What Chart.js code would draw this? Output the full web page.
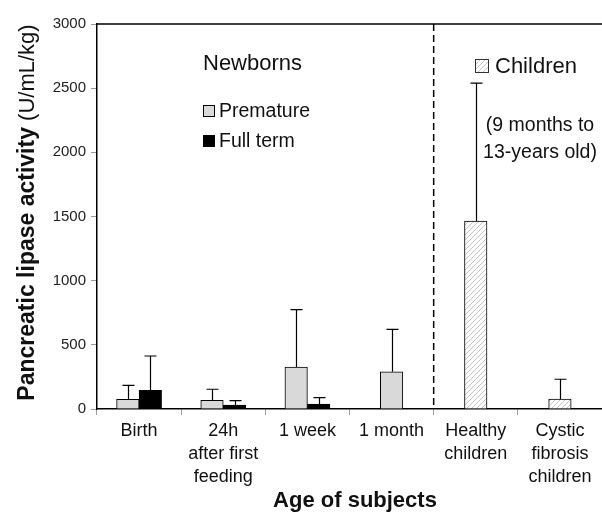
<!DOCTYPE html>
<html>
<head>
<meta charset="utf-8">
<script src="https://cdn.jsdelivr.net/npm/chart.js@4/dist/chart.umd.min.js"></script>
<style>
html,body{margin:0;padding:0;background:#fff;}
canvas{display:block;}
</style>
</head>
<body>
<canvas id="c" width="602" height="516"></canvas>
<script>
// ---- data ----
const categories = [["Birth"], ["24h", "after first", "feeding"], ["1 week"], ["1 month"], ["Healthy", "children"], ["Cystic", "fibrosis", "children"]];
const prematureMean = [75, 68, 327, 290, null, null];
const prematureSD   = [109, 86, 448, 330, null, null];
const fullTermMean  = [145, 30, 38, null, null, null];
const fullTermSD    = [268, 36, 50, null, null, null];
const childrenMean  = [null, null, null, null, 1465, 78];
const childrenSD    = [null, null, null, null, 1075, 154];
const yTicks = [0, 500, 1000, 1500, 2000, 2500, 3000];

const FONT = '"Liberation Sans", Arial, sans-serif';

function makeHatch() {
  const s = 5;
  const c = document.createElement('canvas');
  c.width = s; c.height = s;
  const g = c.getContext('2d');
  g.fillStyle = '#ffffff';
  g.fillRect(0, 0, s, s);
  g.strokeStyle = '#c4c4c4';
  g.lineWidth = 1;
  g.beginPath();
  g.moveTo(0, s); g.lineTo(s, 0);
  g.moveTo(-s / 2, s / 2); g.lineTo(s / 2, -s / 2);
  g.moveTo(s / 2, s * 1.5); g.lineTo(s * 1.5, s / 2);
  g.stroke();
  return g.createPattern(c, 'repeat');
}
const hatch = makeHatch();

const sdByDataset = [prematureSD, fullTermSD, childrenSD];

const errorBars = {
  id: 'errorBars',
  afterDatasetsDraw(chart) {
    const ctx = chart.ctx;
    const y = chart.scales.y;
    ctx.save();
    ctx.strokeStyle = '#000';
    ctx.lineWidth = 1.2;
    chart.data.datasets.forEach((ds, di) => {
      const meta = chart.getDatasetMeta(di);
      const sd = sdByDataset[di];
      ds.data.forEach((v, i) => {
        if (v == null || sd[i] == null) return;
        const el = meta.data[i];
        const x = Math.round(el.x) + 0.5;
        const yTop = y.getPixelForValue(v + sd[i]);
        const yBar = y.getPixelForValue(v);
        ctx.beginPath();
        ctx.moveTo(x, yBar);
        ctx.lineTo(x, yTop);
        ctx.moveTo(x - 6, yTop);
        ctx.lineTo(x + 6, yTop);
        ctx.stroke();
      });
    });
    ctx.restore();
  }
};

const decorations = {
  id: 'decorations',
  afterDraw(chart) {
    const ctx = chart.ctx;
    const ca = chart.chartArea;
    const xs = chart.scales.x;
    ctx.save();
    // top border
    ctx.strokeStyle = '#000';
    ctx.lineWidth = 1.5;
    ctx.beginPath();
    ctx.moveTo(ca.left, ca.top);
    ctx.lineTo(ca.right, ca.top);
    ctx.stroke();
    // dashed separator between newborns and children
    const xd = (xs.getPixelForValue(3) + xs.getPixelForValue(4)) / 2;
    ctx.setLineDash([7, 4]);
    ctx.beginPath();
    ctx.moveTo(xd, ca.top);
    ctx.lineTo(xd, ca.bottom);
    ctx.stroke();
    ctx.setLineDash([]);

    ctx.fillStyle = '#111';
    ctx.textBaseline = 'middle';
    ctx.textAlign = 'left';
    // Newborns block
    ctx.font = '22px ' + FONT;
    ctx.fillText('Newborns', 203, 64);
    const ds = chart.data.datasets;
    const legendRows = [[0, 111], [1, 141]];
    ctx.font = '19.5px ' + FONT;
    legendRows.forEach(([di, yy]) => {
      ctx.fillStyle = ds[di].backgroundColor;
      ctx.fillRect(203.5, yy - 5.5, 11, 11);
      ctx.strokeStyle = '#000';
      ctx.lineWidth = 1;
      ctx.strokeRect(203.5, yy - 5.5, 11, 11);
      ctx.fillStyle = '#111';
      ctx.fillText(ds[di].label, 219, yy + 1);
    });
    // Children block
    ctx.fillStyle = ds[2].backgroundColor;
    ctx.fillRect(475.5, 59.5, 13, 13);
    ctx.strokeStyle = '#333';
    ctx.strokeRect(475.5, 59.5, 13, 13);
    ctx.fillStyle = '#111';
    ctx.font = '22px ' + FONT;
    ctx.fillText(ds[2].label, 495, 67);
    ctx.font = '19.5px ' + FONT;
    ctx.textAlign = 'center';
    ctx.fillText('(9 months to', 540, 126);
    ctx.fillText('13-years old)', 540, 153);

    // x axis title
    ctx.font = 'bold 22px ' + FONT;
    ctx.fillText('Age of subjects', 355, 501);

    // y axis title (bold + regular)
    const boldPart = 'Pancreatic lipase activity';
    const regPart = ' (U/mL/kg)';
    ctx.font = 'bold 23px ' + FONT;
    const wb = ctx.measureText(boldPart).width;
    ctx.font = '22px ' + FONT;
    const wr = ctx.measureText(regPart).width;
    const total = wb + wr;
    ctx.translate(28, (ca.top + ca.bottom) / 2 - 4);
    ctx.rotate(-Math.PI / 2);
    ctx.textAlign = 'left';
    ctx.font = 'bold 23px ' + FONT;
    ctx.fillText(boldPart, -total / 2, 0);
    ctx.font = '22px ' + FONT;
    ctx.fillText(regPart, -total / 2 + wb, 0);
    ctx.restore();
  }
};

new Chart(document.getElementById('c'), {
  type: 'bar',
  data: {
    labels: categories,
    datasets: [
      { label: 'Premature', data: prematureMean, backgroundColor: '#d9d9d9', borderColor: '#000', borderWidth: 1, borderSkipped: 'bottom' },
      { label: 'Full term', data: fullTermMean, backgroundColor: '#000000', borderColor: '#000', borderWidth: 1, borderSkipped: 'bottom' },
      { label: 'Children', data: childrenMean, backgroundColor: hatch, borderColor: '#000', borderWidth: 1, borderSkipped: 'bottom' }
    ]
  },
  options: {
    responsive: false,
    animation: false,
    devicePixelRatio: 1,
    layout: { padding: { top: 24, right: 0, bottom: 0, left: 0 } },
    datasets: { bar: { barThickness: 22.5, skipNull: true } },
    plugins: { legend: { display: false }, tooltip: { enabled: false }, title: { display: false } },
    scales: {
      x: {
        afterFit(s) { s.height = 107; },
        grid: { display: true, offset: true, drawOnChartArea: false, drawTicks: true, tickLength: 6, color: '#9a9a9a' },
        border: { display: true, color: '#000', width: 1.5 },
        ticks: { color: '#111', font: { family: FONT, size: 18, lineHeight: 1.27 }, padding: 5, maxRotation: 0, autoSkip: false }
      },
      y: {
        min: 0, max: 3000,
        afterFit(s) { s.width = 97; },
        afterBuildTicks(s) { s.ticks = yTicks.map(v => ({ value: v })); },
        grid: { display: true, drawOnChartArea: false, drawTicks: true, tickLength: 6, color: '#9a9a9a' },
        border: { display: true, color: '#000', width: 1.5 },
        ticks: { color: '#222', font: { family: FONT, size: 15 }, padding: 5, callback: v => String(v) }
      }
    }
  },
  plugins: [errorBars, decorations]
});
</script>
</body>
</html>
